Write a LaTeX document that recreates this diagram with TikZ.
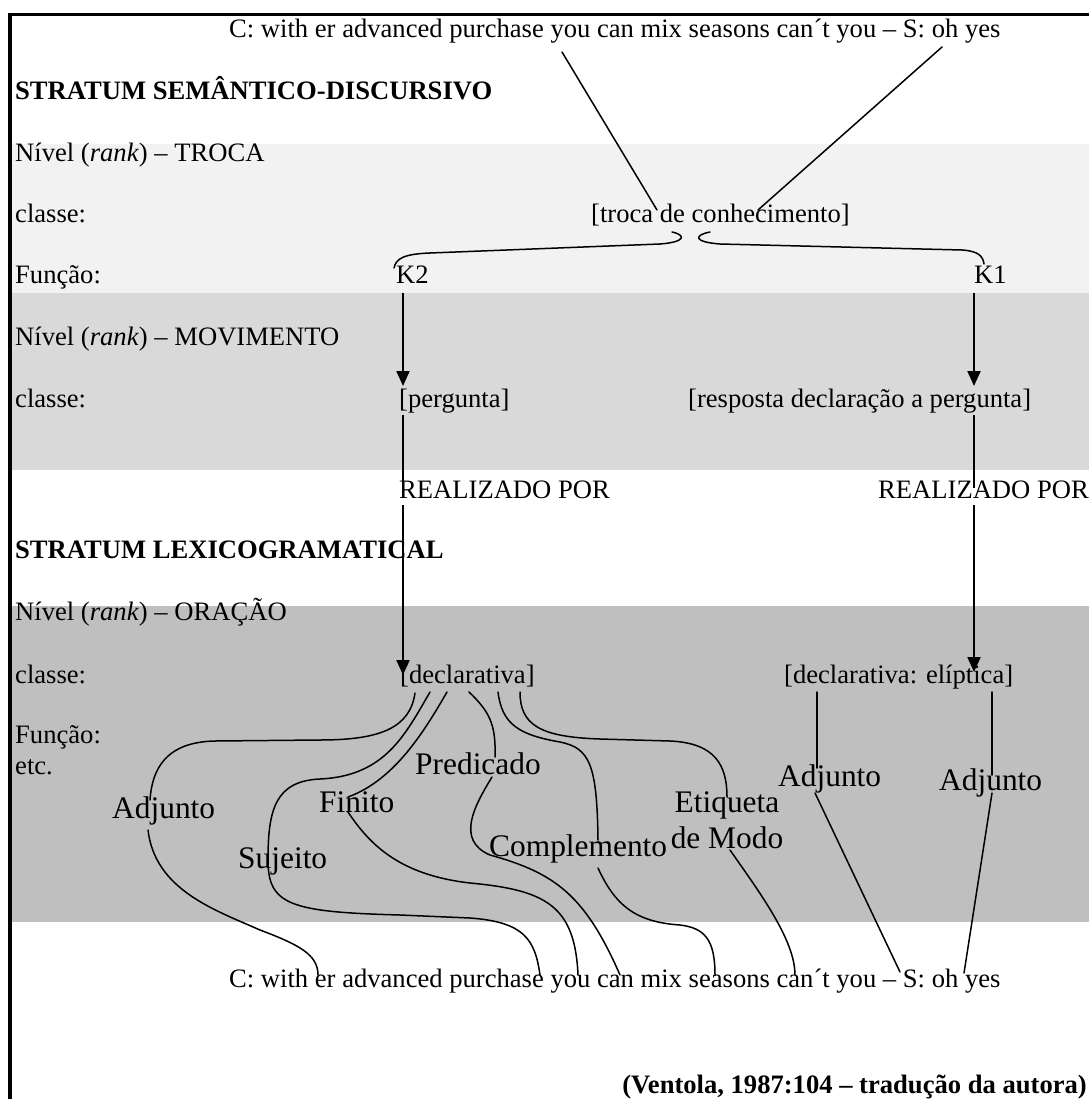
\documentclass[tikz,border=0pt]{standalone}
\usepackage{fontspec}
\setmainfont{Liberation Serif}
\usetikzlibrary{arrows.meta}
\definecolor{bandA}{gray}{0.95}
\definecolor{bandB}{gray}{0.85}
\definecolor{bandC}{gray}{0.75}
\begin{document}
\begin{tikzpicture}[x=1pt,y=-1pt,
  txt/.style={inner sep=0pt, anchor=base west, font=\fontsize{26.6}{31}\selectfont},
  hd/.style={inner sep=0pt, anchor=base west, font=\fontsize{26.6}{31}\selectfont\bfseries},
  fn/.style={inner sep=0pt, anchor=base west, font=\fontsize{31.4}{36}\selectfont},
  link/.style={line width=1.5pt, line cap=round},
  stem/.style={line width=2pt},
  realize/.style={line width=2pt, -{Triangle[width=13pt,length=15pt]}}]
\useasboundingbox (0,0) rectangle (1089,1099);

% shaded rank bands
\fill[bandA] (11.5,144) rectangle (1089,293);
\fill[bandB] (11.5,293) rectangle (1089,470);
\fill[bandC] (11.5,606) rectangle (1089,922);

% frame
\draw[line width=3.2pt] (10,1099) -- (10,14.3) -- (1089,14.3);

% discourse-semantic stratum
\node[txt] (utt1) at (229,38) {C: with er advanced purchase you can mix seasons can´t you – S: oh yes};
\node[hd] (sem) at (15,100) {STRATUM SEMÂNTICO-DISCURSIVO};
\node[txt] (rankT) at (15,162) {Nível (\textit{rank}) – TROCA};
\node[txt] (clT) at (15,223) {classe:};
\node[txt] (fnT) at (15,283) {Função:};
\node[txt] (troca) at (591,223) {[troca de conhecimento]};
\node[txt] (k2) at (396,283) {K2};
\node[txt] (k1) at (974,283) {K1};
\node[txt] (rankM) at (15,345) {Nível (\textit{rank}) – MOVIMENTO};
\node[txt] (clM) at (15,407) {classe:};
\node[txt] (perg) at (399,407) {[pergunta]};
\node[txt] (resp) at (688,407) {[resposta declaração a pergunta]};
\node[txt] (real1) at (399,498) {REALIZADO POR};
\node[txt] (real2) at (878,498) {REALIZADO POR};

% lexicogrammatical stratum
\node[hd] (lex) at (15,558) {STRATUM LEXICOGRAMATICAL};
\node[txt] (rankO) at (15,620) {Nível (\textit{rank}) – ORAÇÃO};
\node[txt] (clO) at (15,683) {classe:};
\node[txt] (fnO) at (15,743) {Função:};
\node[txt] (etc) at (15,774) {etc.};
\node[txt] (decl) at (400,683) {[declarativa]};
\node[txt] (decle) at (784,683) {[declarativa: elíptica]};

\node[fn] (adj1) at (112,818) {Adjunto};
\node[fn] (fin) at (319,812) {Finito};
\node[fn] (pred) at (415,774) {Predicado};
\node[fn] (suj) at (238,868) {Sujeito};
\node[fn] (comp) at (489,856) {Complemento};
\node[fn, anchor=base] (etq) at (727,812) {\begin{tabular}[t]{@{}c@{}}Etiqueta\\de Modo\end{tabular}};
\node[fn] (adj2) at (778,786) {Adjunto};
\node[fn] (adj3) at (939,790) {Adjunto};

\node[txt] (utt2) at (229,987) {C: with er advanced purchase you can mix seasons can´t you – S: oh yes};
\node[hd, anchor=base east] (src) at (1087,1093) {(Ventola, 1987:104 – tradução da autora)};

% connector end points
\coordinate (u1k2) at (562,52);
\coordinate (u1k1) at (942,47);
\coordinate (trL) at (657,210);
\coordinate (trR) at (758,210);
\coordinate (k2top) at (394,268);
\coordinate (k1top) at (984,264);
\coordinate (k2bot) at (403,293);
\coordinate (k1bot) at (974,293);
\coordinate (pergIn) at (403,386);
\coordinate (respIn) at (974,386);
\coordinate (pergOut) at (403,415);
\coordinate (respOut) at (974,415);
\coordinate (r1top) at (403,490);
\coordinate (r2top) at (974,488);
\coordinate (r1bot) at (403,505);
\coordinate (r2bot) at (974,505);
\coordinate (declIn) at (403,675);
\coordinate (decleIn) at (974,672);

% whole exchange split into its two moves
\draw[link] (u1k2) -- (trL);
\draw[link] (u1k1) -- (trR);
\draw[link] (k2top) .. controls (396,258) and (405,254) .. (430,253) -- (660,244)
  .. controls (686,242) and (686,235) .. (672,232);
\draw[link] (710,232) .. controls (694,235) and (693,242) .. (720,244) -- (962,250)
  .. controls (978,251) and (983,256) .. (k1top);

% realisation arrows
\draw[realize] (k2bot) -- (pergIn);
\draw[realize] (k1bot) -- (respIn);
\draw[stem] (pergOut) -- (r1top);
\draw[stem] (respOut) -- (r2top);
\draw[realize] (r1bot) -- (declIn);
\draw[realize] (r2bot) -- (decleIn);

% clause functions: from the clause class to the label
\draw[link] (415,693) .. controls (410,728) and (380,740) .. (320,740) -- (215,741)
  .. controls (165,742) and (152,770) .. (150,800);
\draw[link] (430,692) .. controls (405,735) and (385,776) .. (320,779)
  .. controls (275,781) and (268,810) .. (268,860)
  .. controls (268,905) and (290,912) .. (400,915) -- (470,918)
  .. controls (525,922) and (535,940) .. (540,975);
\draw[link] (447,692) .. controls (425,730) and (395,780) .. (348,797);
\draw[link] (469,692) .. controls (490,712) and (496,725) .. (495,757);
\draw[link] (498,692) .. controls (502,725) and (520,735) .. (560,742)
  .. controls (590,748) and (597,765) .. (598,840);
\draw[link] (520,692) .. controls (520,725) and (540,737) .. (600,739) -- (670,741)
  .. controls (715,743) and (727,765) .. (727,797);
\draw[link] (817,692) -- (817,768);
\draw[link] (992,692) -- (992,775);

% and from the label to the wording
\draw[link] (148,830) .. controls (155,890) and (215,910) .. (260,930)
  .. controls (300,945) and (318,955) .. (318,975);
\draw[link] (348,812) .. controls (370,845) and (400,875) .. (470,883)
  .. controls (545,890) and (575,905) .. (578,975);
\draw[link] (492,777) .. controls (475,805) and (455,840) .. (490,855)
  .. controls (555,873) and (585,895) .. (620,975);
\draw[link] (598,868) .. controls (615,905) and (635,922) .. (680,925)
  .. controls (705,928) and (715,940) .. (715,975);
\draw[link] (730,850) .. controls (760,893) and (795,940) .. (795,975);
\draw[link] (815,793) -- (900,972);
\draw[link] (992,793) -- (964,973);
\end{tikzpicture}
\end{document}
